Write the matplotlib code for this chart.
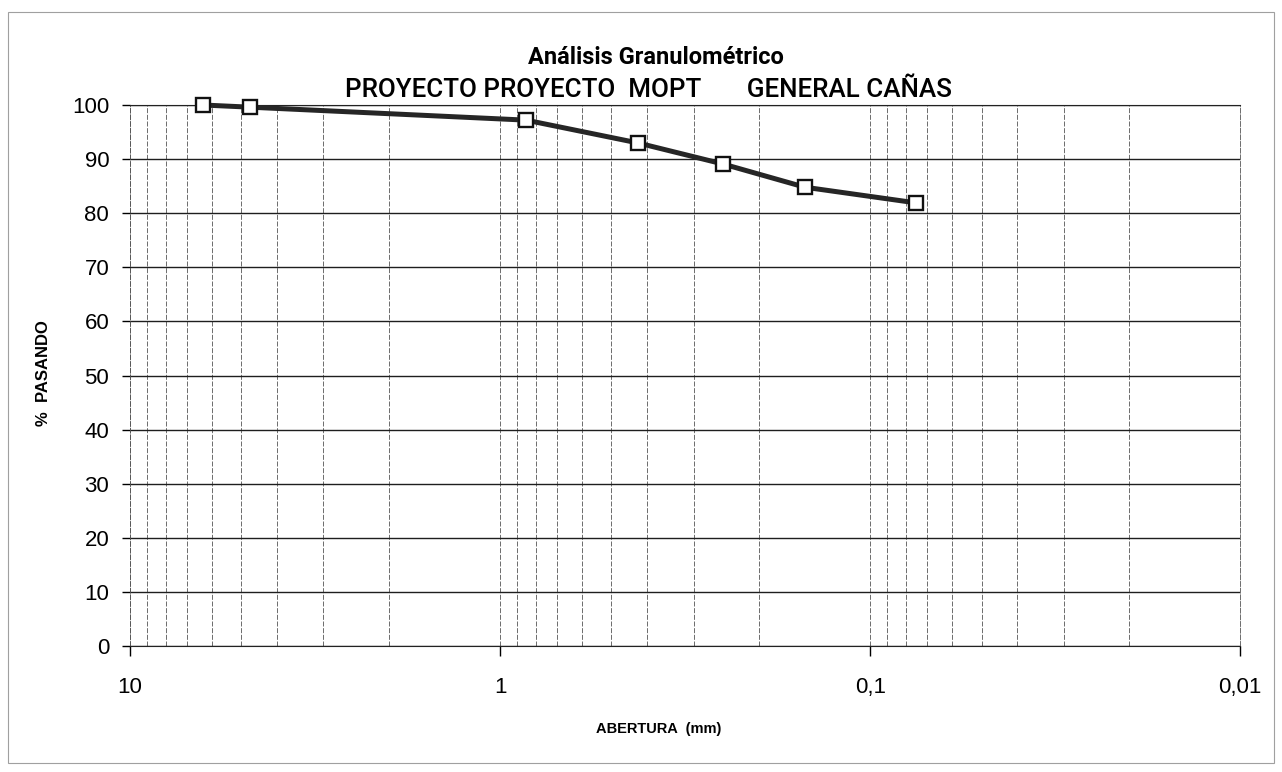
import matplotlib
matplotlib.use("Agg")
import matplotlib.pyplot as plt
from matplotlib.patches import Rectangle
from matplotlib.ticker import FixedLocator, NullFormatter

# Granulometric analysis data (opening in mm, % passing)
abertura = [6.35, 4.75, 0.85, 0.425, 0.25, 0.15, 0.075]
pasando = [100.0, 99.6, 97.2, 93.0, 89.1, 84.8, 81.9]
x_ticks = [10, 1, 0.1, 0.01]
x_tick_labels = ["10", "1", "0,1", "0,01"]
y_ticks = list(range(0, 101, 10))

title_font = ["Roboto", "DejaVu Sans"]
plt.rcParams['font.family'] = ["Liberation Sans", "DejaVu Sans"]

fig = plt.figure(figsize=(12.82, 7.72), dpi=100)
ax = fig.add_axes([0.1014, 0.1632, 0.866, 0.7008])

# outer frame of the chart area
fig.patches.append(Rectangle((0.006, 0.012), 0.988, 0.972, transform=fig.transFigure,
                             fill=False, edgecolor='#a0a0a0', linewidth=0.8))

ax.plot(abertura, pasando, color='#262626', linewidth=3.6, marker='s',
        markersize=10.5, markerfacecolor='white', markeredgecolor='#111111',
        markeredgewidth=1.7, zorder=5, clip_on=False)

ax.set_xscale('log')
ax.set_xlim(10, 0.01)
ax.set_ylim(0, 100)

ax.xaxis.set_major_locator(FixedLocator(x_ticks))
ax.set_xticklabels(x_tick_labels)
minor = [m * 10.0 ** e for e in (-2, -1, 0) for m in range(2, 10)]
ax.xaxis.set_minor_locator(FixedLocator(minor))
ax.xaxis.set_minor_formatter(NullFormatter())
ax.set_yticks(y_ticks)

ax.grid(True, which='major', axis='y', color='#1e1e1e', linewidth=1.0, linestyle='-')
ax.grid(True, which='both', axis='x', color='#555555', linewidth=0.6, linestyle=(0, (6, 2)))

ax.tick_params(axis='y', which='major', length=6, width=1.0, labelsize=16, pad=9)
ax.tick_params(axis='x', which='major', length=7, width=1.0, labelsize=16, pad=15)
ax.tick_params(axis='x', which='minor', length=0)

ax.spines['top'].set_color('#222222')
ax.spines['bottom'].set_color('#222222')
for side in ('left', 'right'):
    ax.spines[side].set_linestyle((0, (6, 2)))
    ax.spines[side].set_linewidth(0.6)
    ax.spines[side].set_color('#555555')

ax.set_xlabel("ABERTURA  (mm)", fontsize=10.5, fontweight='bold')
ax.xaxis.set_label_coords(0.4766, -0.14)
ax.set_ylabel("%  PASANDO", fontsize=12, fontweight='bold')
ax.yaxis.set_label_coords(-0.071, 0.505)

fig.text(0.512, 0.925, "Análisis Granulométrico", ha='center', va='center',
         fontsize=17, family=title_font, fontweight='bold')
fig.text(0.5055, 0.883, "PROYECTO PROYECTO  MOPT       GENERAL CAÑAS", ha='center',
         va='center', fontsize=18.7, family=title_font, fontweight='medium')

fig.savefig("out.png", dpi=100, facecolor='white')
